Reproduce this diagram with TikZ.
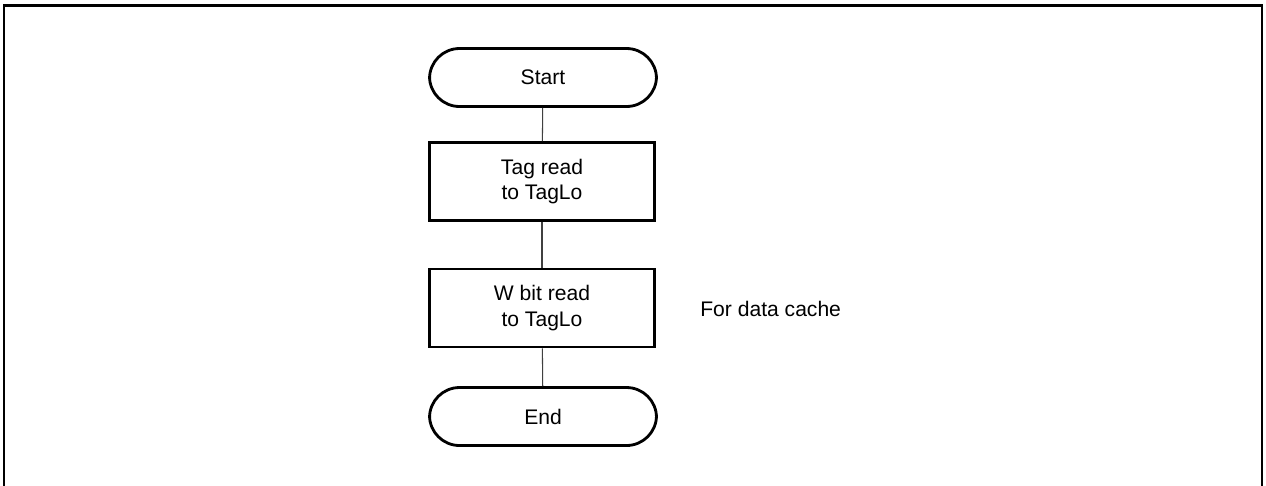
\documentclass[tikz,border=0pt]{standalone}
\usepackage{fontspec}
\setmainfont{Liberation Sans}
\usetikzlibrary{calc}

\begin{document}
\begin{tikzpicture}[x=0.02cm, y=-0.02cm, font=\fontsize{12}{14.5}\selectfont,
    terminal/.style={draw, line width=1.6pt, rectangle, rounded corners=0.6cm,
      minimum width=4.54cm, minimum height=1.16cm, inner sep=0pt},
    procbox/.style={draw, line width=1.6pt, rectangle, align=center,
      minimum width=4.5cm, minimum height=1.56cm, inner sep=0pt},
    flowline/.style={draw, line width=0.6pt, black!75}]
  \useasboundingbox (0,0) rectangle (1266,485);

  % Frame (bottom edge lies outside the picture)
  \draw[line width=1.2pt] (4,495) -- (4,5.5) -- (1262,5.5) -- (1262,495);

  % Flow
  \node[terminal] (start) at (543,77.5) {Start};
  \node[procbox] (tagread) at (542,181.5) {Tag read\\to TagLo};
  \node[procbox] (wread) at (542,308) {W bit read\\to TagLo};
  \node[terminal] (stop) at (543,416.5) {End};

  \path[flowline] (start) -- (tagread);
  \path[flowline] (tagread) -- (wread);
  \path[flowline] (wread) -- (stop);

  % Note
  \node[anchor=west, inner sep=0pt] (note) at (700,309) {For data cache};
\end{tikzpicture}
\end{document}
